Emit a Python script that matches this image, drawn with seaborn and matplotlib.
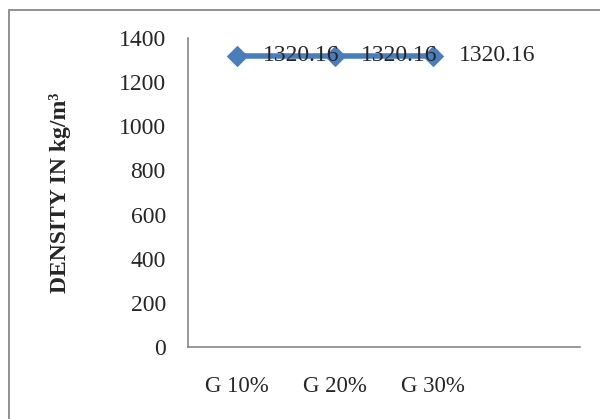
import pandas as pd
import matplotlib.pyplot as plt
import seaborn as sns
from matplotlib.patches import Rectangle

# Datos
categories = ['G 10%', 'G 20%', 'G 30%']
density = [1320.16, 1320.16, 1320.16]

df = pd.DataFrame({'mix': categories, 'density': density})

sns.set_style('white')
plt.rcParams['font.family'] = ['Liberation Serif', 'DejaVu Serif']

fig = plt.figure(figsize=(6, 4.19), dpi=100)
ax = fig.add_axes([0.3133, 0.1718, 0.6534, 0.7375])

sns.lineplot(data=df, x='mix', y='density', ax=ax, color='#4A7EBB',
             linewidth=4, marker='D', markersize=10, markeredgecolor='#4A7EBB')

# Etiquetas de datos
for i, v in enumerate(density):
    ax.annotate(f'{v:.2f}', (i, v), xytext=(19, 0), textcoords='offset points',
                ha='left', va='center', fontsize=17)

ax.set_ylim(0, 1400)
ax.set_yticks(range(0, 1401, 200))
ax.set_xlim(-0.5, 3.5)
ax.set_xticks(range(len(categories)))
ax.set_xticklabels(categories)
ax.set_xticks([-0.5, 0.5, 1.5, 2.5, 3.5], minor=True)
ax.tick_params(axis='x', which='major', length=0, pad=21, labelsize=16.5)
ax.tick_params(axis='x', which='minor', length=5, width=1.2, color='#888888', direction='out')
ax.tick_params(axis='y', length=4, width=1.2, color='#888888', direction='out', labelsize=17, pad=12)

ax.set_xlabel('')
ax.set_ylabel('DENSITY IN kg/m³', fontsize=17, fontweight='bold', labelpad=34)

for s in ['top', 'right']:
    ax.spines[s].set_visible(False)
for s in ['left', 'bottom']:
    ax.spines[s].set_color('#888888')
    ax.spines[s].set_linewidth(1.2)

# Borde del area del grafico
fig.patches.append(Rectangle((9 / 600, -0.05), 1.1, 1 - 10 / 419 + 0.05,
                             transform=fig.transFigure, fill=False,
                             edgecolor='#888888', linewidth=1.3))

fig.savefig('out.png', dpi=100)
